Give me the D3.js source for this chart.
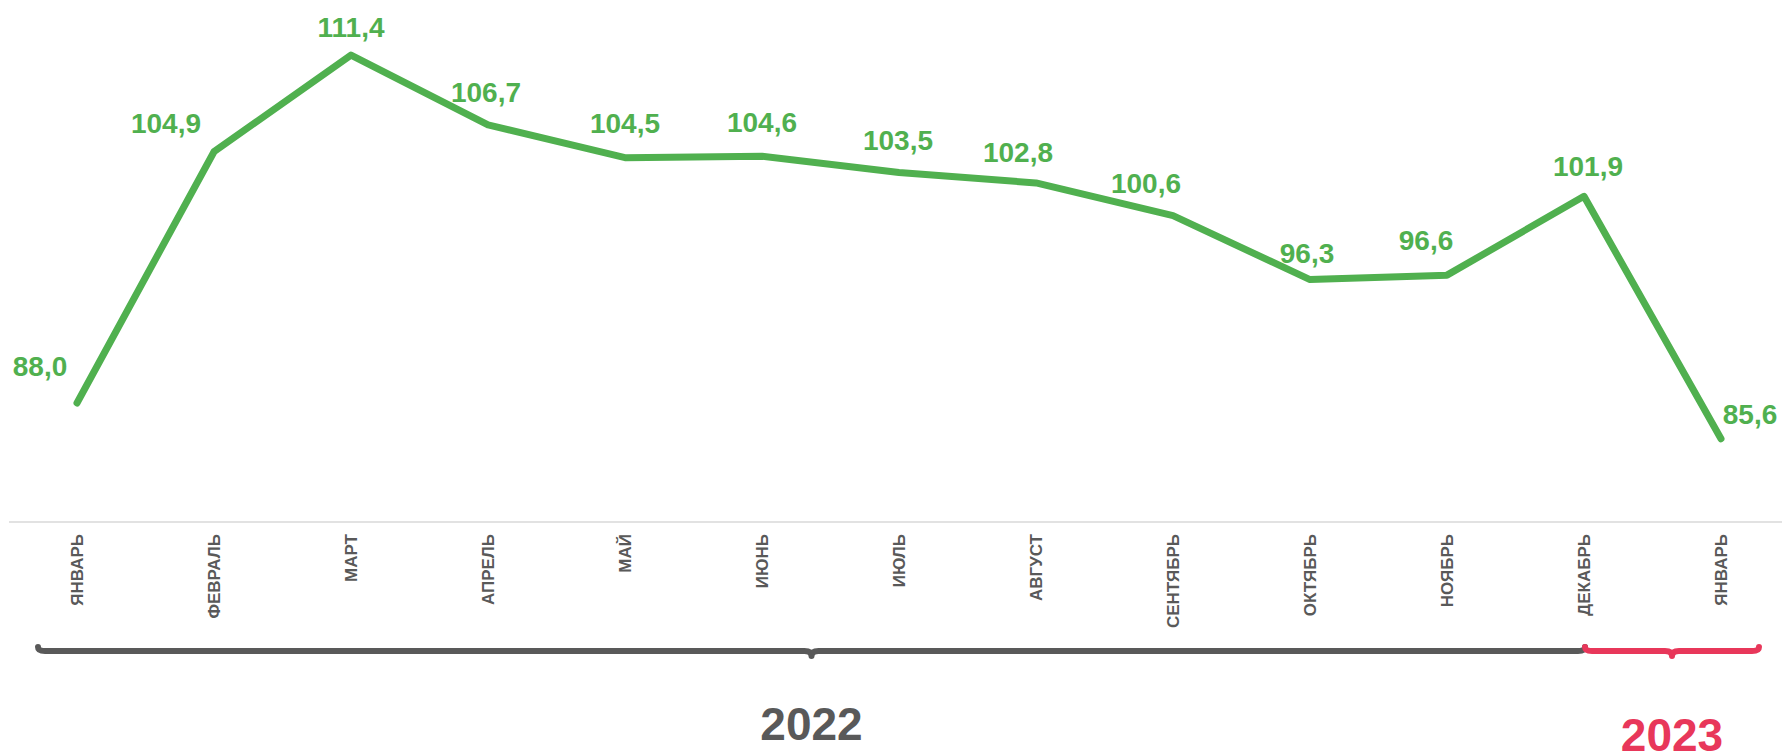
<!DOCTYPE html>
<html>
<head>
<meta charset="utf-8">
<script src="https://cdn.jsdelivr.net/npm/d3@7"></script>
<style>
  html, body { margin: 0; padding: 0; background: #fff; }
  svg { display: block; }
  text { font-family: "Liberation Sans", Arial, sans-serif; }
</style>
</head>
<body>
<svg id="chart" width="1782" height="755"></svg>
<script>
// ---- data ----
const months = ["ЯНВАРЬ","ФЕВРАЛЬ","МАРТ","АПРЕЛЬ","МАЙ","ИЮНЬ","ИЮЛЬ","АВГУСТ","СЕНТЯБРЬ","ОКТЯБРЬ","НОЯБРЬ","ДЕКАБРЬ","ЯНВАРЬ"];
const values = [88.0, 104.9, 111.4, 106.7, 104.5, 104.6, 103.5, 102.8, 100.6, 96.3, 96.6, 101.9, 85.6];
const years = ["2022", "2023"];
const yearSpans = [[0, 11], [11, 12]]; // index ranges of months for each year

// label nudges (manual placement of data labels, in px)
const labelDx = [-37, -48, 0, -2, 0, 0, -1, -18, -27, -3, -21, 4, 29];
const labelDy = [-27, -19, -18, -23, -25, -24, -23, -21, -23, -17, -25, -20, -15];

// ---- layout ----
const svg = d3.select("#chart");
const green = "#50b04f";
const gray = "#595959";
const red = "#e8375a";

const keys = months.map((m, i) => i);
const x = d3.scalePoint().domain(keys).range([77, 1721]);
const y = d3.scaleLinear().domain([80, 115]).range([522, 1.5]);

// axis baseline
svg.append("line")
  .attr("x1", 9).attr("x2", 1782)
  .attr("y1", y(80)).attr("y2", y(80))
  .attr("stroke", "#d9d9d9").attr("stroke-width", 1.5);

// category axis labels (rotated)
const xAxis = d3.axisBottom(x).tickSize(0).tickFormat(i => months[i]);
const gx = svg.append("g").attr("transform", `translate(0,${y(80)})`).call(xAxis);
gx.select(".domain").remove();
gx.selectAll(".tick text")
  .attr("transform", "rotate(-90)")
  .attr("x", -12).attr("y", 0).attr("dy", "0.35em")
  .attr("text-anchor", "end")
  .attr("fill", gray)
  .attr("font-size", 17)
  .attr("font-weight", "bold")
  .style("font-family", "'Liberation Sans', Arial, sans-serif");

// line
const line = d3.line().x((d, i) => x(i)).y(d => y(d));
svg.append("path")
  .datum(values)
  .attr("d", line)
  .attr("fill", "none")
  .attr("stroke", green)
  .attr("stroke-width", 7)
  .attr("stroke-linejoin", "round")
  .attr("stroke-linecap", "round");

// data labels
svg.append("g").selectAll("text")
  .data(values)
  .join("text")
  .attr("x", (d, i) => x(i) + labelDx[i])
  .attr("y", (d, i) => y(d) + labelDy[i])
  .attr("text-anchor", "middle")
  .attr("fill", green)
  .attr("font-size", 28)
  .attr("font-weight", "bold")
  .text(d => d.toFixed(1).replace(".", ","));

// braces
const braceY = 651;
function bracePath(x0, x1) {
  const m = (x0 + x1) / 2;
  const r = 7;
  return `M${x0},${braceY - 4} Q${x0},${braceY} ${x0 + r},${braceY}` +
         ` L${m - r},${braceY} Q${m},${braceY} ${m},${braceY + 5}` +
         ` Q${m},${braceY} ${m + r},${braceY} L${x1 - r},${braceY}` +
         ` Q${x1},${braceY} ${x1},${braceY - 4}`;
}
const braceEdges = [[38, 1585], [1585, 1759]];
const yearColors = [gray, red];
const yearBaselines = [740, 751];

years.forEach((yr, k) => {
  const [a, b] = braceEdges[k];
  svg.append("path")
    .attr("d", bracePath(a, b))
    .attr("fill", "none")
    .attr("stroke", yearColors[k])
    .attr("stroke-width", 6)
    .attr("stroke-linecap", "round")
    .attr("stroke-linejoin", "round");
  svg.append("text")
    .attr("x", (a + b) / 2)
    .attr("y", yearBaselines[k])
    .attr("text-anchor", "middle")
    .attr("fill", yearColors[k])
    .attr("font-size", 46)
    .attr("font-weight", "bold")
    .text(yr);
});
</script>
</body>
</html>
